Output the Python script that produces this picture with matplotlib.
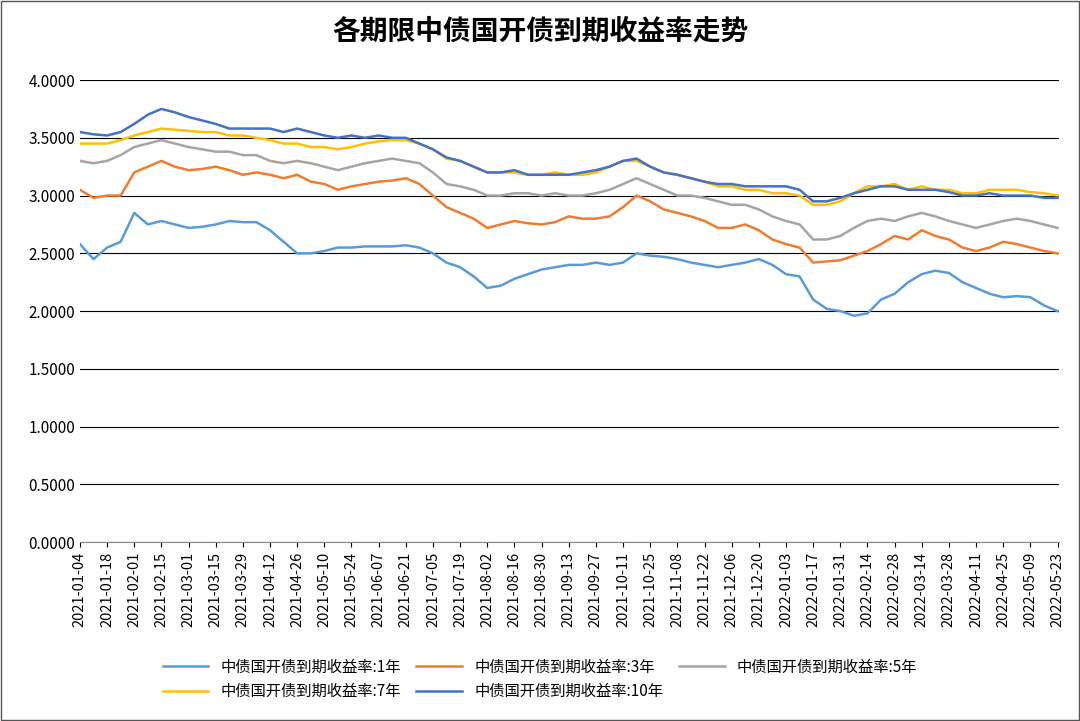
import matplotlib
matplotlib.use("Agg")
import matplotlib.pyplot as plt
from matplotlib import font_manager
import numpy as np
import pandas as pd

names = {f.name for f in font_manager.fontManager.ttflist}
cjk = [n for n in ["Noto Sans CJK SC","Noto Sans CJK JP","Noto Sans CJK TC","Noto Sans CJK KR"] if n in names]
if not cjk:
    cjk = sorted(n for n in names if "CJK" in n)
plt.rcParams['font.family'] = cjk + ['DejaVu Sans']

dates = pd.date_range("2021-01-04", "2022-05-23", freq="7D")
y1 = [2.58,2.45,2.55,2.60,2.85,2.75,2.78,2.75,2.72,2.73,2.75,2.78,2.77,2.77,2.70,2.60,2.50,2.50,2.52,2.55,2.55,2.56,2.56,2.56,2.57,2.55,2.50,2.42,2.38,2.30,2.20,2.22,2.28,2.32,2.36,2.38,2.40,2.40,2.42,2.40,2.42,2.50,2.48,2.47,2.45,2.42,2.40,2.38,2.40,2.42,2.45,2.40,2.32,2.30,2.10,2.02,2.00,1.96,1.98,2.10,2.15,2.25,2.32,2.35,2.33,2.25,2.20,2.15,2.12,2.13,2.12,2.05,2.00]
y3 = [3.05,2.98,3.00,3.00,3.20,3.25,3.30,3.25,3.22,3.23,3.25,3.22,3.18,3.20,3.18,3.15,3.18,3.12,3.10,3.05,3.08,3.10,3.12,3.13,3.15,3.10,3.00,2.90,2.85,2.80,2.72,2.75,2.78,2.76,2.75,2.77,2.82,2.80,2.80,2.82,2.90,3.00,2.95,2.88,2.85,2.82,2.78,2.72,2.72,2.75,2.70,2.62,2.58,2.55,2.42,2.43,2.44,2.48,2.52,2.58,2.65,2.62,2.70,2.65,2.62,2.55,2.52,2.55,2.60,2.58,2.55,2.52,2.50]
y5 = [3.30,3.28,3.30,3.35,3.42,3.45,3.48,3.45,3.42,3.40,3.38,3.38,3.35,3.35,3.30,3.28,3.30,3.28,3.25,3.22,3.25,3.28,3.30,3.32,3.30,3.28,3.20,3.10,3.08,3.05,3.00,3.00,3.02,3.02,3.00,3.02,3.00,3.00,3.02,3.05,3.10,3.15,3.10,3.05,3.00,3.00,2.98,2.95,2.92,2.92,2.88,2.82,2.78,2.75,2.62,2.62,2.65,2.72,2.78,2.80,2.78,2.82,2.85,2.82,2.78,2.75,2.72,2.75,2.78,2.80,2.78,2.75,2.72]
y7 = [3.45,3.45,3.45,3.48,3.52,3.55,3.58,3.57,3.56,3.55,3.55,3.52,3.52,3.50,3.48,3.45,3.45,3.42,3.42,3.40,3.42,3.45,3.47,3.48,3.48,3.45,3.40,3.32,3.30,3.25,3.20,3.20,3.20,3.18,3.18,3.20,3.18,3.18,3.20,3.25,3.30,3.30,3.25,3.20,3.18,3.15,3.12,3.08,3.08,3.05,3.05,3.02,3.02,3.00,2.92,2.92,2.95,3.02,3.08,3.08,3.10,3.05,3.08,3.05,3.05,3.02,3.02,3.05,3.05,3.05,3.03,3.02,3.00]
y10 = [3.55,3.53,3.52,3.55,3.62,3.70,3.75,3.72,3.68,3.65,3.62,3.58,3.58,3.58,3.58,3.55,3.58,3.55,3.52,3.50,3.52,3.50,3.52,3.50,3.50,3.45,3.40,3.33,3.30,3.25,3.20,3.20,3.22,3.18,3.18,3.18,3.18,3.20,3.22,3.25,3.30,3.32,3.25,3.20,3.18,3.15,3.12,3.10,3.10,3.08,3.08,3.08,3.08,3.05,2.95,2.95,2.98,3.02,3.05,3.08,3.08,3.05,3.05,3.05,3.03,3.00,3.00,3.02,3.00,3.00,3.00,2.98,2.98]
labels = ["中债国开债到期收益率:1年","中债国开债到期收益率:3年","中债国开债到期收益率:5年","中债国开债到期收益率:7年","中债国开债到期收益率:10年"]
colors = ["#5B9BD5","#ED7D31","#A5A5A5","#FFC000","#4472C4"]

fig = plt.figure(figsize=(10.8,7.21), dpi=100)
ax = fig.add_axes([0.074,0.248,0.907,0.641])
for y,l,c in zip([y1,y3,y5,y7,y10],labels,colors):
    ax.plot(dates[:len(y)], y, color=c, lw=1.8, label=l)
ax.set_ylim(0,4)
ax.set_yticks(np.arange(0,4.01,0.5))
ax.set_yticklabels([f"{v:.4f}" for v in np.arange(0,4.01,0.5)], fontsize=11)
ax.yaxis.grid(True, color='black', lw=0.8)
ticks = pd.date_range("2021-01-04","2022-05-23",freq="14D")
ax.set_xticks(ticks)
ax.set_xticklabels([t.strftime("%Y-%m-%d") for t in ticks], rotation=90, fontsize=10.5)
ax.set_xlim(dates[0], pd.Timestamp("2022-05-24"))
for s in ['top','right','left']:
    ax.spines[s].set_visible(False)
ax.spines['bottom'].set_color('#888888')
ax.tick_params(axis='y', length=0)
fig.suptitle("各期限中债国开债到期收益率走势", y=0.975, fontsize=20, fontweight='bold')
h,l = ax.get_legend_handles_labels()
order = [0,3,1,4,2]
fig.legend([h[i] for i in order],[l[i] for i in order], loc='lower center', bbox_to_anchor=(0.5,0.01), ncol=3, frameon=False, fontsize=11, handlelength=3, columnspacing=1)
fig.patches.append(plt.Rectangle((0.001,0.001),0.998,0.998,transform=fig.transFigure,fill=False,ec='#555555',lw=1))
fig.savefig("out.png", dpi=100)
